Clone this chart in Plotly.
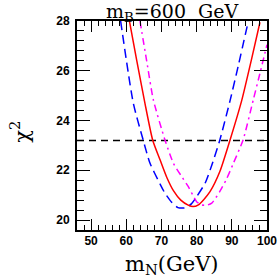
import plotly.graph_objects as go

blue_x = [58.4, 62.0, 64.8, 66.7, 69.6, 71.0, 73.0, 74.7, 75.8, 77.0, 78.5, 80.0, 82.4, 84.3, 86.6, 89.5, 92.0, 94.7]
blue_y = [28.0, 24.7, 23.22, 22.3, 21.45, 21.08, 20.7, 20.5, 20.48, 20.5, 20.65, 20.94, 21.48, 22.2, 23.22, 24.8, 26.3, 28.0]

red_x = [60.9, 63.0, 65.3, 67.5, 69.6, 71.5, 73.4, 75.5, 77.6, 79.0, 80.5, 82.0, 83.8, 86.6, 89.5, 92.8, 95.5, 98.0]
red_y = [28.0, 26.4, 24.7, 23.22, 22.42, 21.72, 21.18, 20.8, 20.6, 20.54, 20.61, 20.82, 21.14, 21.95, 23.22, 24.8, 26.4, 27.95]

mag_x = [63.9, 65.8, 67.7, 71.0, 73.4, 75.5, 77.6, 80.0, 81.4, 83.0, 84.3, 86.6, 88.5, 90.5, 93.2, 96.1, 98.0, 100.0]
mag_y = [28.0, 26.4, 24.83, 23.22, 22.28, 21.8, 21.35, 20.74, 20.61, 20.6, 20.68, 21.15, 21.65, 22.3, 23.22, 24.83, 25.9, 27.05]

cl_x = [46, 100]
cl_y = [23.2, 23.2]

x_ticks = [50, 60, 70, 80, 90, 100]
y_ticks = [20, 22, 24, 26, 28]

fig = go.Figure()
fig.add_trace(go.Scatter(x=cl_x, y=cl_y, mode="lines",
                         line=dict(color="black", width=1.5, dash="7px,5px")))
fig.add_trace(go.Scatter(x=blue_x, y=blue_y, mode="lines",
                         line=dict(color="#0000ff", width=1.5, dash="9px,5px", shape="spline", smoothing=0.6)))
fig.add_trace(go.Scatter(x=mag_x, y=mag_y, mode="lines",
                         line=dict(color="#ff00ff", width=1.5, dash="7px,4px,2px,4px", shape="spline", smoothing=0.6)))
fig.add_trace(go.Scatter(x=red_x, y=red_y, mode="lines",
                         line=dict(color="#ff0000", width=1.5, shape="spline", smoothing=0.6)))

tickfont = dict(family="Liberation Sans", size=12, color="black", weight="bold")

fig.update_layout(
    width=278, height=277,
    margin=dict(l=77, r=11, t=21, b=47, autoexpand=False),
    paper_bgcolor="white", plot_bgcolor="white",
    showlegend=False,
    annotations=[
        dict(text="m<sub>B</sub>=600 &nbsp;GeV", xref="paper", yref="paper",
             x=0.5, y=1.0, xanchor="center", yanchor="bottom", yshift=-6,
             showarrow=False,
             font=dict(family="DejaVu Serif", size=19, color="black")),
        dict(text="m<sub>N</sub>(GeV)", xref="paper", yref="paper",
             x=0.5, y=0.0, xanchor="center", yanchor="top", yshift=-20,
             showarrow=False,
             font=dict(family="DejaVu Serif", size=21, color="black")),
        dict(text="χ<sup>2</sup>", xref="paper", yref="paper",
             x=0.0, y=0.47, xanchor="center", yanchor="middle", xshift=-57,
             textangle=-90, showarrow=False,
             font=dict(family="DejaVu Serif", size=21, color="black")),
    ],
)
fig.update_xaxes(
    range=[46, 100], tickvals=x_ticks, ticktext=[str(v) for v in x_ticks],
    ticks="inside", ticklen=11, tickwidth=1.3, tickcolor="black",
    minor=dict(ticks="inside", ticklen=5, dtick=2, tick0=50, tickcolor="black", tickwidth=1.2),
    showline=True, linecolor="black", linewidth=1.8, mirror="ticks",
    showgrid=False, zeroline=False, tickfont=tickfont, ticklabelstandoff=-1,
    automargin=False,
)
fig.update_yaxes(
    range=[19.6, 28], tickvals=y_ticks, ticktext=[str(v) for v in y_ticks],
    ticks="inside", ticklen=13, tickwidth=1.3, tickcolor="black",
    minor=dict(ticks="inside", ticklen=7, dtick=0.4, tick0=20, tickcolor="black", tickwidth=1.2),
    showline=True, linecolor="black", linewidth=1.8, mirror="ticks",
    showgrid=False, zeroline=False, tickfont=tickfont, ticklabelstandoff=3,
    automargin=False,
)

fig.write_html("out.html",
               config={"displayModeBar": False},
               post_script="document.body.style.margin='0';document.body.style.overflow='hidden';")
